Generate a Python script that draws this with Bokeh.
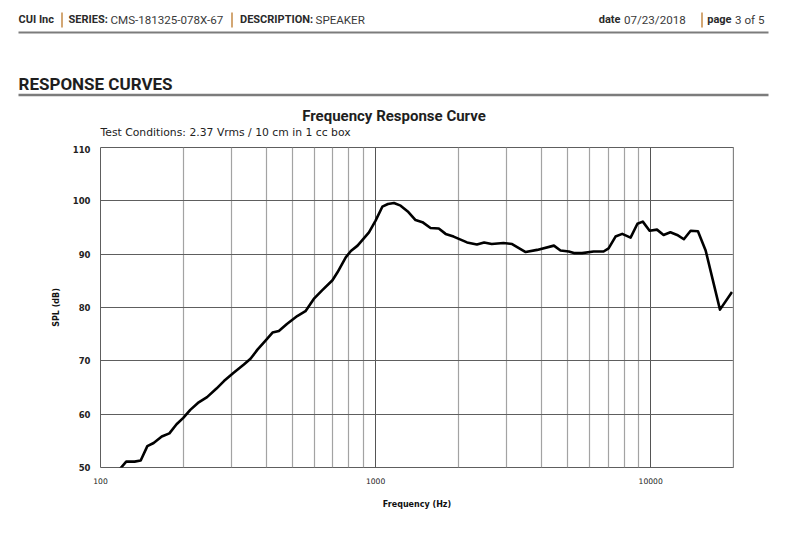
from bokeh.plotting import figure
from bokeh.layouts import column
from bokeh.models import Range1d, FixedTicker, PrintfTickFormatter, Span
from bokeh.core.properties import value
from bokeh.embed import file_html
from bokeh.resources import INLINE

# ---- data ----
freq_hz = [118, 124, 133, 140, 148, 156, 167, 178, 189, 200,
           212, 226, 244, 264, 281, 304, 332, 351, 372, 398,
           422, 445, 476, 519, 556, 596, 639, 697, 727, 779,
           813, 860, 946, 1000, 1058, 1109, 1166, 1233, 1316, 1397,
           1480, 1584, 1697, 1797, 1921, 2150, 2335, 2481, 2643, 2917,
           3135, 3512, 3865, 4449, 4700, 5040, 5260, 5630, 6200, 6740,
           7030, 7450, 7880, 8450, 8950, 9360, 9910, 10540, 11140, 11790,
           12480, 13200, 13970, 14850, 15840, 17860, 19750]
spl_db = [49.8, 51.1, 51.1, 51.3, 54.0, 54.6, 55.8, 56.4, 58.1, 59.3,
          60.8, 62.1, 63.2, 64.8, 66.2, 67.7, 69.3, 70.4, 72.1, 73.8,
          75.3, 75.6, 76.9, 78.4, 79.3, 81.6, 83.2, 85.1, 86.6, 89.4,
          90.6, 91.6, 94.1, 96.3, 98.9, 99.4, 99.6, 99.1, 97.9, 96.4,
          96.0, 94.9, 94.8, 93.8, 93.3, 92.2, 91.8, 92.2, 91.9, 92.1,
          91.9, 90.4, 90.8, 91.6, 90.7, 90.5, 90.2, 90.2, 90.5, 90.5,
          91.1, 93.3, 93.8, 93.1, 95.7, 96.1, 94.4, 94.6, 93.6, 94.1,
          93.6, 92.8, 94.4, 94.3, 90.7, 79.6, 82.9]
x_major_ticks = [100, 1000, 10000]
x_minor_ticks = [m * 10 ** e for e in (2, 3, 4) for m in range(2, 10) if m * 10 ** e < 20000]
y_ticks = [50, 60, 70, 80, 90, 100, 110]
x_limits = (100, 20000)
y_limits = (50, 110)

header_left_bold = ["CUI Inc", "SERIES:", "DESCRIPTION:"]
header_left_plain = ["CMS-181325-078X-67", "SPEAKER"]
header_right_bold = ["date", "page"]
header_right_plain = ["07/23/2018", "3 of 5"]
section_title = "RESPONSE CURVES"
chart_title = "Frequency Response Curve"
subtitle = "Test Conditions: 2.37 Vrms / 10 cm in 1 cc box"
x_label = "Frequency (Hz)"
y_label = "SPL (dB)"

W = 790
HDR_H = 145

# ---- header figure (page-pixel coordinates) ----
hdr = figure(width=W, height=HDR_H, x_range=Range1d(0, W), y_range=Range1d(HDR_H, 0),
             x_axis_location=None, y_axis_location=None, output_backend="svg",
             toolbar_location=None, min_border=0, frame_align=False)
hdr.min_border_left = hdr.min_border_right = hdr.min_border_top = hdr.min_border_bottom = 0
hdr.grid.visible = False
hdr.outline_line_color = None

F = value("Roboto")
ROW_Y = 19.3
hdr.text(x=[18, 68, 239.5], y=[ROW_Y] * 3, text=header_left_bold,
         text_font=F, text_font_size="11px", text_font_style="bold",
         text_color="#2a2a2a", text_baseline="alphabetic")
hdr.text(x=[110, 315], y=[ROW_Y] * 2, text=header_left_plain,
         text_font=F, text_font_size="11.6px", text_color="#3a3a3a",
         text_baseline="alphabetic")
hdr.text(x=[620, 731], y=[ROW_Y] * 2, text=header_right_bold,
         text_font=F, text_font_size="11px", text_font_style="bold",
         text_color="#2a2a2a", text_baseline="alphabetic", text_align="right")
hdr.text(x=[623.5, 734.5], y=[ROW_Y] * 2, text=header_right_plain,
         text_font=F, text_font_size="11.6px", text_color="#3a3a3a",
         text_baseline="alphabetic")
hdr.segment(x0=[61.5, 231.5, 701.5], y0=[12, 12, 12], x1=[61.5, 231.5, 701.5], y1=[27, 27, 27],
            line_color="#c48a46", line_width=1.5)
hdr.segment(x0=[18], y0=[32], x1=[768], y1=[32], line_color="#7c7c7c", line_width=2)

hdr.text(x=[18], y=[83.5], text=[section_title], text_font=F, text_font_size="17px",
         text_font_style="bold", text_color="#1e1e1e", text_baseline="alphabetic")
hdr.segment(x0=[18], y0=[94.5], x1=[768], y1=[94.5], line_color="#7c7c7c", line_width=2.5)

hdr.text(x=[393.5], y=[115.5], text=[chart_title], text_font=F, text_font_size="15px",
         text_font_style="bold", text_color="#1e1e1e", text_align="center",
         text_baseline="alphabetic")
hdr.text(x=[100], y=[132], text=[subtitle], text_font=value("DejaVu Sans"),
         text_font_size="10.8px", text_color="#222222", text_baseline="alphabetic")

# ---- chart figure ----
p = figure(width=W, height=533 - HDR_H, x_axis_type="log",
           x_range=Range1d(*x_limits), y_range=Range1d(*y_limits),
           min_border_left=100, min_border_right=57, min_border_top=147 - HDR_H,
           min_border_bottom=66, output_backend="svg", toolbar_location=None,
           frame_align=False)
p.outline_line_color = "#5e5e5e"
p.outline_line_width = 1
p.background_fill_color = "white"
p.border_fill_color = "white"

p.xaxis.ticker = FixedTicker(ticks=x_major_ticks, minor_ticks=x_minor_ticks)
p.xaxis.formatter = PrintfTickFormatter(format="%d")
p.yaxis.ticker = FixedTicker(ticks=y_ticks)

p.xgrid.grid_line_color = "#555555"
p.xgrid.grid_line_width = 1
p.xgrid.minor_grid_line_color = "#a3a3a3"
p.xgrid.minor_grid_line_width = 1.2
p.ygrid.grid_line_color = "#5e5e5e"
p.ygrid.grid_line_width = 1

for ax in (p.xaxis, p.yaxis):
    ax.axis_line_color = None
    ax.major_tick_line_color = None
    ax.minor_tick_line_color = None
    ax.major_tick_out = 0
    ax.minor_tick_out = 0
    ax.major_label_text_font = "DejaVu Sans"
    ax.axis_label_text_font = "DejaVu Sans"
    ax.axis_label_text_font_style = "bold"
    ax.axis_label_text_font_size = "8px"
    ax.axis_label_text_color = "#111111"
    ax.major_label_text_color = "#222222"

p.xaxis.major_label_text_font_size = "7.6px"
p.xaxis.major_label_standoff = 10
p.xaxis.axis_label = x_label
p.xaxis.axis_label_standoff = 13

p.yaxis.major_label_text_font_size = "8.5px"
p.yaxis.major_label_text_font_style = "bold"
p.yaxis.major_label_standoff = 10
p.yaxis.axis_label = y_label
p.yaxis.axis_label_standoff = 9

p.add_layout(Span(location=x_limits[1], dimension="height", line_color="#a9a9a9", line_width=1.5))

p.line(freq_hz, spl_db, line_color="black", line_width=2.6, line_join="round")

layout = column(hdr, p, spacing=0)
open("out.html", "w").write(file_html(layout, INLINE))
